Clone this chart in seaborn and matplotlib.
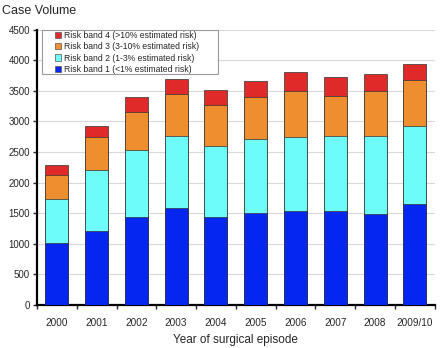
import numpy as np
import pandas as pd
import matplotlib
matplotlib.use("Agg")
import matplotlib.pyplot as plt
import seaborn as sns

years = ["2000", "2001", "2002", "2003", "2004", "2005", "2006", "2007", "2008", "2009/10"]
band1 = [1010, 1200, 1435, 1580, 1440, 1500, 1540, 1540, 1490, 1650]
band2 = [720, 1005, 1100, 1185, 1150, 1210, 1210, 1220, 1265, 1270]
band3 = [385, 535, 625, 680, 675, 690, 750, 660, 745, 750]
band4 = [170, 190, 230, 250, 240, 255, 300, 305, 280, 265]
labels = ["Risk band 1 (<1% estimated risk)", "Risk band 2 (1-3% estimated risk)",
          "Risk band 3 (3-10% estimated risk)", "Risk band 4 (>10% estimated risk)"]
colors = ["#0526F0", "#6EFCFA", "#EE8E2E", "#E02A2A"]

sns.set_style("white")
plt.rcParams['font.family'] = ['Liberation Sans', 'DejaVu Sans']

fig = plt.figure(figsize=(4.4, 3.48), dpi=100)
ax = fig.add_axes([0.084, 0.124, 0.904, 0.791])

bands = [band1, band2, band3, band4]
cum = np.cumsum(np.array(bands), axis=0)
handles = []
for i in range(3, -1, -1):
    df = pd.DataFrame({"year": years, "value": cum[i]})
    sns.barplot(data=df, x="year", y="value", color=colors[i], saturation=1,
                width=0.58, edgecolor="#333333", linewidth=0.5, ax=ax, zorder=3)
    handles.append(plt.Rectangle((0, 0), 1, 1, facecolor=colors[i], edgecolor="#555555", linewidth=0.5))

ax.set_xlim(-0.5, 9.5)
ax.set_ylim(0, 4500)
ax.set_yticks(np.arange(0, 4501, 500))
ax.yaxis.grid(True, color="#d8d8d8", linewidth=0.8, zorder=0)
ax.set_axisbelow(True)
for s in ["top", "right"]:
    ax.spines[s].set_visible(False)
for s in ["left", "bottom"]:
    ax.spines[s].set_color("black")
    ax.spines[s].set_linewidth(1.6)
ax.tick_params(axis="y", which="major", left=True, length=3, width=1, labelsize=7, pad=2)
ax.tick_params(axis="x", which="major", bottom=False, labelsize=7.2, pad=6)
ax.set_xticks(np.arange(-0.5, 9.6, 1), minor=True)
ax.tick_params(axis="x", which="minor", bottom=True, length=3, width=1, direction="out")
ax.set_xlabel("Year of surgical episode", fontsize=8.5, labelpad=4)
ax.set_ylabel("")
fig.text(0.005, 0.968, "Case Volume", fontsize=9, ha="left", va="center")

# legend frame (wide box as in the reference)
frame = plt.Rectangle((42 / 440, 1 - 73.5 / 348), 176 / 440, 43.5 / 348, transform=fig.transFigure,
                      facecolor="white", edgecolor="#999999", linewidth=0.8, zorder=4)
fig.patches.append(frame)

leg = fig.legend(handles, labels[::-1], loc="upper left",
                 bbox_to_anchor=(55 / 440, 1 - 31 / 348), bbox_transform=fig.transFigure,
                 fontsize=6.2, frameon=False,
                 handlelength=0.75, handleheight=0.75, handletextpad=0.25,
                 labelspacing=0.27, borderpad=0.0, borderaxespad=0.0)
leg.set_zorder(5)

fig.savefig("out.png", dpi=100)
